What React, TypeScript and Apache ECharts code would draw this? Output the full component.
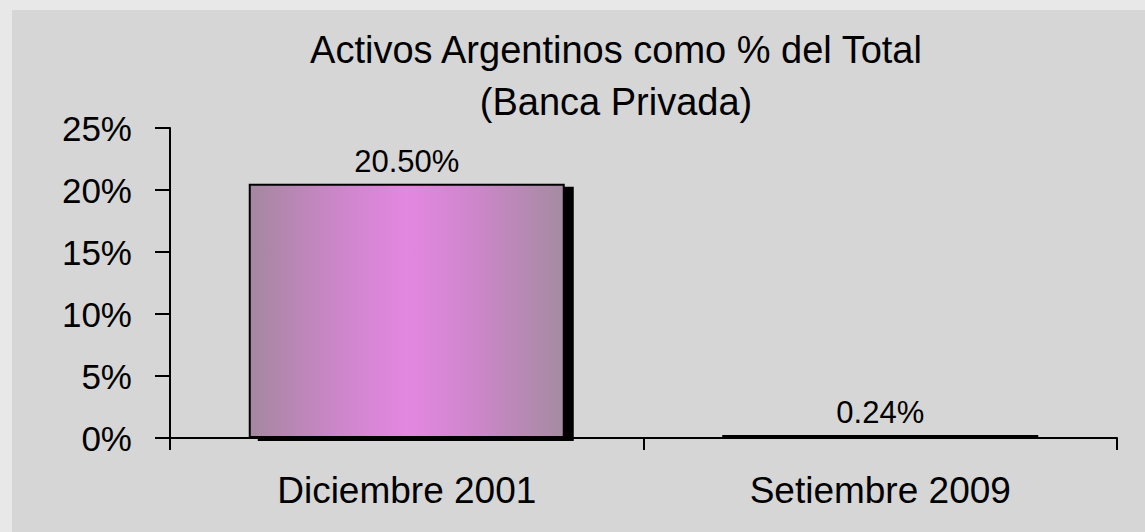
import React, { useEffect, useRef } from "react";
import * as echarts from "echarts";

const categories = ["Diciembre 2001", "Setiembre 2009"];
const values = [20.5, 0.24];
const titleLines = ["Activos Argentinos como % del Total", "(Banca Privada)"];
const yMin = 0;
const yMax = 25;
const yStep = 5;

const FONT = "'Liberation Sans', Arial, sans-serif";

export default function App() {
  const ref = useRef<HTMLDivElement>(null);
  useEffect(() => {
    if (!ref.current) return;
    const chart = echarts.init(ref.current, null, { renderer: "svg" });
    const barGradient = new echarts.graphic.LinearGradient(0, 0, 1, 0, [
      { offset: 0, color: "#a4889f" },
      { offset: 0.3, color: "#cf86cc" },
      { offset: 0.5, color: "#e387e1" },
      { offset: 0.7, color: "#d086cd" },
      { offset: 1, color: "#a58ba1" },
    ]);
    chart.setOption({
      animation: false,
      backgroundColor: "#e8e8e8",
      textStyle: { fontFamily: FONT },
      graphic: [
        {
          type: "rect",
          z: -10,
          silent: true,
          shape: { x: 12, y: 10, width: 1140, height: 530 },
          style: { fill: "#d6d6d6" },
        },
      ],
      title: {
        text: titleLines.join("\n"),
        left: 611,
        top: 19,
        textAlign: "center",
        textStyle: {
          fontFamily: FONT,
          fontSize: 38,
          fontWeight: "normal",
          color: "#000",
          lineHeight: 52,
        },
      },
      grid: { left: 170, right: 28, top: 128, bottom: 94, containLabel: false },
      xAxis: {
        type: "category",
        data: categories,
        axisLine: { lineStyle: { color: "#000", width: 2 } },
        axisTick: { show: true, length: 12, lineStyle: { color: "#000", width: 2 } },
        axisLabel: { fontFamily: FONT, fontSize: 37, color: "#000", margin: 34 },
      },
      yAxis: {
        type: "value",
        min: yMin,
        max: yMax,
        interval: yStep,
        splitLine: { show: false },
        axisLine: { show: true, lineStyle: { color: "#000", width: 2 } },
        axisTick: { show: true, length: 15, lineStyle: { color: "#000", width: 2 } },
        axisLabel: {
          fontFamily: FONT,
          fontSize: 35,
          color: "#000",
          margin: 38,
          formatter: "{value}%",
        },
      },
      series: [
        {
          type: "bar",
          data: values,
          barWidth: 316,
          itemStyle: {
            color: barGradient,
            borderColor: "#000",
            borderWidth: 2,
            shadowColor: "#000",
            shadowBlur: 0,
            shadowOffsetX: 9,
            shadowOffsetY: 3,
          },
          label: {
            show: true,
            position: "top",
            distance: 7,
            fontFamily: FONT,
            fontSize: 31,
            color: "#000",
            formatter: (p: any) => Number(p.value).toFixed(2) + "%",
          },
        },
      ],
    });
    return () => chart.dispose();
  }, []);
  return (
    <div
      ref={ref}
      style={{ position: "fixed", left: 0, top: 0, width: 1145, height: 532 }}
    />
  );
}
